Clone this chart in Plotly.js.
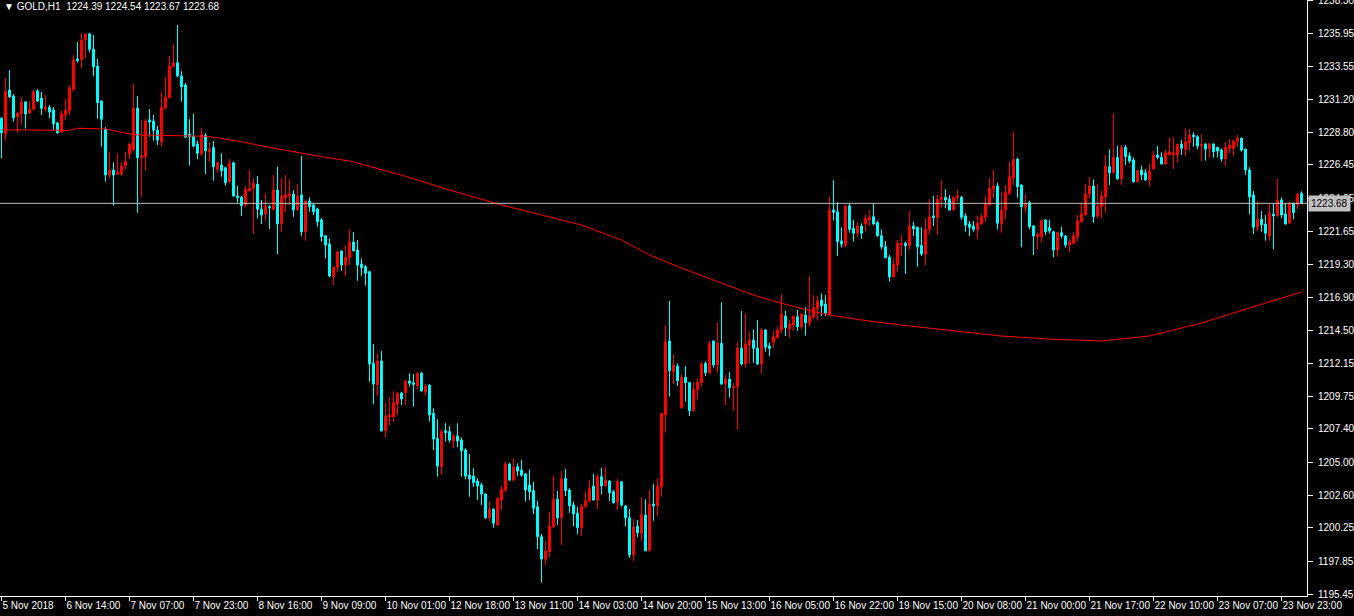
<!DOCTYPE html>
<html>
<head>
<meta charset="utf-8">
<script src="https://cdn.plot.ly/plotly-3.0.1.min.js"></script>
<style>
html,body{margin:0;padding:0;background:#000;}
#chart{width:1354px;height:616px;}
</style>
</head>
<body>
<div id="chart"></div>
<script>
const symbol = "GOLD,H1";

const open = [
1229.82,1228.69,1231.86,1231.43,1229.93,1230.15,1231.00,1230.20,1230.47,1231.79,
1231.28,1230.47,1230.61,1230.42,1229.48,1228.83,1230.06,1230.37,1231.93,1234.10,
1234.03,1235.47,1235.91,1234.80,1233.59,1231.07,1229.02,1225.73,1226.09,1225.80,
1225.80,1226.40,1227.24,1227.53,1230.56,1226.98,1227.05,1229.70,1229.62,1228.97,
1228.13,1230.56,1231.31,1233.54,1233.83,1232.87,1232.22,1228.66,1228.54,1227.96,
1227.24,1228.59,1227.41,1227.70,1226.16,1226.45,1226.25,1225.24,1226.61,1224.21,
1224.11,1223.56,1224.59,1224.76,1225.07,1223.25,1222.91,1223.44,1223.25,1224.64,
1222.19,1224.09,1224.21,1224.35,1223.20,1224.28,1221.63,1223.85,1223.56,1223.27,
1222.48,1221.34,1220.74,1218.38,1219.06,1220.24,1219.23,1219.75,1220.89,1220.31,
1219.30,1219.10,1218.74,1212.13,1210.56,1212.30,1207.26,1208.27,1208.27,1209.19,
1209.98,1210.01,1210.85,1210.73,1210.49,1211.41,1210.08,1210.56,1208.52,1206.71,
1204.66,1207.26,1207.19,1206.52,1206.88,1206.59,1205.87,1204.06,1203.99,1203.63,
1203.34,1202.69,1200.98,1201.61,1200.46,1202.26,1202.98,1204.86,1203.70,1204.66,
1204.43,1204.14,1203.34,1202.93,1201.78,1199.61,1197.98,1198.53,1200.33,1202.31,
1200.98,1203.83,1202.98,1201.90,1201.30,1200.26,1201.78,1202.19,1203.27,1202.26,
1203.94,1203.27,1203.63,1202.86,1202.06,1203.58,1201.83,1200.98,1198.29,1200.38,
1199.86,1201.18,1198.60,1201.97,1201.83,1203.22,1208.40,1213.74,1211.52,1211.93,
1208.92,1211.12,1210.73,1208.71,1210.20,1210.73,1212.13,1211.45,1213.74,1212.01,
1213.57,1210.63,1210.99,1210.37,1210.44,1213.21,1212.08,1213.45,1213.81,1213.21,
1212.08,1214.53,1213.38,1213.65,1213.98,1214.53,1215.54,1214.61,1214.89,1215.49,
1214.77,1215.62,1215.06,1215.49,1216.10,1216.70,1216.41,1215.67,1223.20,1223.07,
1220.96,1220.67,1223.49,1221.88,1221.52,1222.04,1222.19,1222.48,1222.72,1222.28,
1221.34,1220.55,1219.78,1218.38,1219.23,1220.67,1220.79,1220.62,1222.04,1221.95,
1220.65,1220.02,1221.80,1222.77,1222.64,1223.97,1224.11,1223.97,1223.20,1224.11,
1224.11,1222.77,1222.19,1222.04,1221.80,1222.19,1222.67,1223.56,1224.71,1224.93,
1222.19,1223.20,1224.40,1225.49,1226.86,1225.00,1223.39,1223.73,1222.04,1221.27,
1221.27,1222.48,1221.92,1221.63,1220.31,1221.56,1221.32,1220.67,1220.79,1221.27,
1222.35,1222.84,1224.35,1224.93,1222.77,1223.44,1224.16,1226.32,1225.89,1227.00,
1225.44,1227.72,1227.10,1226.81,1225.24,1226.09,1225.89,1225.36,1226.16,1227.17,
1227.00,1226.52,1227.22,1227.19,1227.17,1227.96,1227.58,1228.06,1228.61,1228.49,
1227.82,1227.96,1227.60,1227.96,1227.72,1227.53,1226.88,1227.65,1227.65,1228.13,
1228.37,1227.58,1226.09,1224.28,1221.95,1222.53,1222.19,1221.32,1222.91,1222.77,
1223.92,1222.91,1222.24,1223.68,1223.56,1224.39
];
const high = [
1229.90,1232.73,1233.31,1231.57,1230.25,1231.36,1231.05,1231.07,1231.86,1231.93,
1231.72,1231.50,1230.78,1230.63,1229.55,1230.37,1231.21,1232.22,1234.39,1235.33,
1235.96,1235.96,1236.00,1235.83,1234.10,1231.10,1229.19,1227.41,1226.64,1227.29,
1226.64,1227.39,1228.05,1232.30,1231.43,1229.70,1229.77,1230.49,1230.06,1229.26,
1231.72,1232.80,1234.32,1235.18,1236.56,1233.23,1232.39,1229.77,1230.13,1228.20,
1229.14,1228.74,1228.09,1228.18,1226.74,1227.29,1226.32,1226.88,1226.69,1224.93,
1224.21,1224.93,1226.09,1225.49,1225.65,1223.92,1224.40,1223.56,1225.73,1226.32,
1225.49,1225.73,1225.41,1224.64,1225.07,1227.10,1223.97,1224.11,1223.73,1223.36,
1222.62,1221.39,1221.15,1219.10,1220.26,1220.26,1220.67,1221.82,1221.59,1221.03,
1219.71,1219.23,1218.82,1213.52,1212.85,1213.02,1209.28,1209.67,1210.13,1210.03,
1210.08,1210.90,1211.41,1211.36,1211.45,1211.52,1210.63,1210.60,1208.88,1208.09,
1207.36,1207.80,1207.60,1207.02,1207.80,1206.79,1205.99,1205.58,1204.55,1203.83,
1203.51,1202.75,1202.19,1201.65,1202.45,1203.27,1205.02,1204.95,1205.27,1204.91,
1205.15,1204.21,1204.47,1203.58,1202.21,1199.81,1199.30,1201.41,1204.00,1202.91,
1204.35,1204.50,1203.11,1202.14,1201.78,1201.97,1202.86,1203.70,1204.14,1204.14,
1204.59,1204.66,1203.70,1202.98,1203.78,1203.63,1201.90,1201.61,1200.89,1200.82,
1202.45,1202.31,1202.98,1203.42,1203.83,1208.56,1214.89,1216.63,1212.80,1212.13,
1211.36,1211.93,1210.80,1210.73,1211.05,1212.25,1212.25,1213.76,1213.76,1215.06,
1216.53,1211.28,1211.48,1210.69,1213.65,1215.91,1215.74,1214.37,1214.58,1215.26,
1214.66,1214.58,1213.62,1214.46,1214.77,1217.13,1215.91,1215.26,1215.56,1215.98,
1215.75,1216.17,1218.43,1217.06,1216.99,1217.18,1217.06,1224.16,1225.36,1223.75,
1221.95,1223.55,1223.68,1222.48,1222.28,1222.24,1222.84,1223.20,1223.68,1222.43,
1221.80,1220.96,1219.95,1219.71,1221.03,1221.39,1220.91,1223.12,1222.35,1221.99,
1221.95,1222.64,1223.97,1224.21,1224.28,1225.36,1224.71,1224.28,1224.21,1224.64,
1224.21,1222.96,1222.40,1222.40,1222.77,1222.96,1224.21,1225.49,1226.09,1225.17,
1224.52,1225.00,1226.69,1228.85,1226.97,1225.05,1224.40,1223.87,1222.12,1221.56,
1222.53,1222.53,1222.48,1221.70,1221.63,1221.99,1221.39,1221.08,1221.63,1222.84,
1223.68,1225.07,1225.56,1225.41,1225.07,1224.59,1227.17,1227.58,1230.18,1227.82,
1227.89,1227.89,1227.36,1227.00,1226.14,1226.40,1226.16,1226.52,1227.48,1227.82,
1227.36,1227.58,1228.42,1228.45,1228.01,1228.25,1229.10,1229.05,1228.81,1228.61,
1228.66,1228.01,1228.01,1228.01,1227.76,1227.65,1228.09,1228.30,1228.30,1228.61,
1228.45,1227.65,1226.28,1224.59,1223.85,1223.12,1222.84,1223.68,1223.68,1225.44,
1224.11,1223.63,1223.80,1223.73,1224.40,1224.54
];
const low = [
1226.95,1228.20,1231.28,1229.57,1228.76,1229.34,1229.07,1230.13,1230.40,1231.00,
1230.06,1230.30,1229.82,1228.97,1228.69,1228.74,1229.70,1230.06,1231.74,1233.83,
1233.43,1234.15,1234.56,1232.87,1229.79,1227.77,1225.24,1225.49,1223.51,1225.73,
1225.67,1226.14,1226.88,1227.45,1223.00,1224.16,1226.04,1228.49,1228.20,1227.89,
1227.77,1230.47,1231.26,1233.50,1232.78,1231.02,1228.40,1226.40,1227.72,1226.86,
1227.10,1225.80,1226.69,1225.31,1225.89,1225.60,1224.95,1225.13,1224.15,1223.73,
1222.77,1223.39,1224.52,1221.46,1222.60,1222.19,1222.40,1221.83,1223.15,1220.02,
1221.63,1223.07,1223.56,1222.71,1223.15,1221.32,1220.98,1223.07,1222.84,1221.99,
1220.91,1219.71,1218.34,1217.78,1218.74,1218.82,1218.43,1219.23,1220.20,1218.09,
1218.43,1217.73,1210.80,1209.19,1209.77,1207.20,1206.79,1207.62,1207.91,1208.40,
1209.12,1209.12,1210.44,1209.00,1210.25,1210.08,1209.77,1207.91,1205.87,1203.94,
1204.06,1206.47,1206.40,1205.99,1206.07,1203.94,1203.75,1202.50,1203.22,1202.26,
1201.90,1200.90,1200.74,1200.26,1200.40,1201.54,1202.79,1203.65,1203.58,1203.99,
1203.94,1202.14,1202.26,1201.25,1198.72,1196.29,1197.57,1198.12,1200.25,1200.46,
1199.01,1202.55,1201.34,1200.38,1199.80,1199.68,1201.70,1202.14,1202.20,1201.61,
1202.69,1203.20,1202.19,1202.02,1201.54,1201.78,1200.38,1198.09,1197.86,1199.57,
1199.32,1198.55,1198.53,1200.77,1201.10,1202.50,1207.12,1209.72,1210.63,1210.49,
1208.85,1209.36,1208.32,1208.65,1209.53,1210.44,1211.21,1211.40,1211.81,1211.45,
1210.56,1209.12,1209.67,1208.71,1207.36,1211.96,1211.84,1212.13,1212.17,1212.00,
1211.41,1212.97,1212.66,1213.21,1213.90,1214.29,1214.10,1213.98,1214.46,1214.46,
1214.58,1214.12,1214.77,1215.31,1215.20,1215.54,1215.54,1215.56,1222.43,1219.88,
1220.50,1220.50,1221.56,1220.91,1221.27,1221.10,1221.63,1222.04,1222.12,1221.27,
1220.36,1219.71,1218.02,1218.30,1218.74,1219.88,1218.58,1220.31,1221.32,1219.10,
1219.88,1219.23,1221.46,1222.04,1221.39,1223.39,1223.32,1223.15,1223.12,1223.80,
1222.48,1221.63,1221.32,1221.63,1221.10,1222.12,1222.35,1223.49,1224.04,1221.80,
1221.56,1222.53,1224.28,1225.00,1224.09,1220.50,1223.00,1221.80,1219.95,1220.36,
1220.84,1221.39,1221.52,1219.78,1219.83,1221.15,1220.48,1220.12,1220.74,1220.91,
1222.28,1222.80,1224.04,1222.28,1222.60,1222.60,1223.00,1225.00,1225.85,1225.40,
1225.00,1226.45,1226.57,1225.17,1225.17,1225.36,1225.30,1224.88,1226.10,1226.86,
1226.48,1226.48,1227.10,1226.16,1226.61,1227.17,1227.10,1227.48,1227.77,1227.58,
1226.74,1226.76,1226.97,1226.97,1227.00,1226.69,1226.32,1227.29,1227.10,1227.77,
1227.41,1225.73,1222.91,1221.46,1221.70,1221.63,1220.98,1220.98,1220.38,1222.71,
1222.60,1222.15,1222.19,1222.53,1223.25,1223.67
];
const close = [
1228.78,1231.79,1231.38,1229.86,1230.20,1231.00,1230.13,1230.49,1231.74,1231.07,
1230.54,1230.61,1230.27,1229.43,1228.78,1230.13,1230.42,1232.01,1234.03,1233.98,
1235.47,1235.91,1234.80,1233.54,1230.95,1229.75,1225.73,1226.09,1225.73,1225.89,
1226.37,1226.69,1227.96,1230.56,1226.98,1227.12,1229.62,1229.55,1228.97,1228.25,
1230.61,1231.34,1233.59,1233.83,1232.87,1232.10,1228.45,1228.49,1227.82,1227.29,
1228.66,1227.48,1227.60,1226.32,1226.61,1226.04,1225.17,1226.57,1224.21,1224.09,
1223.51,1224.69,1224.76,1225.13,1223.25,1222.84,1223.49,1223.36,1224.64,1222.19,
1224.21,1224.28,1224.35,1223.20,1224.21,1221.63,1223.85,1223.44,1223.07,1222.35,
1221.27,1220.67,1218.43,1219.06,1220.17,1219.23,1219.78,1220.89,1220.26,1219.23,
1219.03,1218.63,1212.08,1210.63,1212.30,1207.26,1208.32,1208.40,1209.28,1209.98,
1209.55,1210.85,1210.69,1210.61,1211.41,1210.15,1210.49,1208.40,1206.66,1204.71,
1207.19,1207.12,1206.59,1206.88,1206.52,1205.82,1203.99,1203.78,1203.51,1203.27,
1202.69,1200.98,1201.59,1200.58,1202.38,1203.05,1204.86,1203.70,1204.66,1204.35,
1204.06,1202.98,1202.86,1201.66,1199.61,1198.00,1198.58,1200.38,1202.31,1200.98,
1203.78,1202.93,1201.85,1201.25,1200.26,1201.78,1202.21,1203.11,1202.26,1203.94,
1203.27,1203.70,1202.79,1202.06,1203.58,1201.90,1200.98,1198.29,1200.31,1199.90,
1201.18,1198.60,1201.97,1201.83,1203.27,1208.52,1213.69,1211.60,1212.01,1210.87,
1211.12,1210.73,1208.71,1210.25,1210.78,1212.08,1211.45,1213.57,1212.01,1213.57,
1210.63,1210.99,1210.37,1210.44,1213.21,1212.08,1213.52,1213.81,1213.21,1212.08,
1214.53,1213.29,1213.21,1214.05,1214.53,1215.69,1214.70,1214.97,1215.54,1214.77,
1215.69,1215.06,1215.54,1216.14,1216.63,1216.27,1215.74,1223.20,1223.03,1220.91,
1220.74,1223.49,1221.80,1221.52,1222.04,1221.52,1222.60,1222.67,1222.19,1221.34,
1220.55,1219.75,1218.38,1219.28,1220.79,1220.79,1220.62,1222.04,1221.83,1220.55,
1220.02,1221.80,1222.72,1222.64,1223.97,1224.11,1223.92,1223.20,1224.11,1224.21,
1222.67,1222.12,1221.95,1221.80,1222.24,1222.72,1223.68,1224.76,1224.93,1222.24,
1223.20,1224.45,1225.60,1226.86,1224.88,1223.44,1223.68,1222.00,1221.32,1221.44,
1222.43,1221.63,1221.68,1220.31,1221.56,1221.32,1220.67,1220.91,1221.32,1222.40,
1222.91,1224.35,1224.93,1222.72,1223.49,1224.21,1226.37,1225.89,1227.00,1225.44,
1227.65,1227.05,1226.74,1225.24,1226.04,1225.73,1225.36,1226.01,1227.17,1227.00,
1226.52,1227.33,1227.39,1227.33,1227.94,1227.65,1228.13,1228.61,1228.49,1227.82,
1227.96,1227.60,1227.96,1227.41,1227.46,1226.88,1227.72,1227.89,1228.16,1228.37,
1227.53,1226.09,1224.16,1221.95,1222.53,1222.12,1221.52,1222.96,1222.77,1223.92,
1222.84,1222.19,1223.68,1223.00,1224.35,1223.68
];

// moving average, at candle indices
const maIdx = [0,17,19,26,33,41,51,53,55,60,66,72,80,87,100,112,125,135,145,155,162,170,178,183,188,193,198,203,208,215,225,237,250,262,275,287,300,312,325];
const maVal = [1228.99,1228.95,1229.10,1229.05,1228.63,1228.59,1228.52,1228.45,1228.37,1228.13,1227.77,1227.44,1227.05,1226.74,1225.72,1224.64,1223.56,1222.84,1222.11,1221.03,1219.95,1219.01,1218.14,1217.62,1217.06,1216.63,1216.22,1215.86,1215.57,1215.26,1214.89,1214.53,1214.10,1213.88,1213.74,1214.10,1215.04,1216.12,1217.28];

const dateLabels = ["5 Nov 2018","6 Nov 14:00","7 Nov 07:00","7 Nov 23:00","8 Nov 16:00","9 Nov 09:00","10 Nov 01:00","12 Nov 18:00","13 Nov 11:00","14 Nov 03:00","14 Nov 20:00","15 Nov 13:00","16 Nov 05:00","16 Nov 22:00","19 Nov 15:00","20 Nov 08:00","21 Nov 00:00","21 Nov 17:00","22 Nov 10:00","23 Nov 07:00","23 Nov 23:00"];
const dateLabelStep = 16; // bars between date labels

const priceTicks = [1238.30,1235.95,1233.55,1231.20,1228.80,1226.45,1224.05,1221.65,1219.30,1216.90,1214.50,1212.15,1209.75,1207.40,1205.00,1202.60,1200.25,1197.85,1195.45];

const n = close.length;
const idx = Array.from({length: n}, (_, i) => i);
const last = n - 1;
const font = {family: 'Liberation Sans, Arial, DejaVu Sans, sans-serif', size: 10, color: '#FFFFFF'};

const traces = [
  {
    type: 'candlestick', x: idx, open: open, high: high, low: low, close: close,
    increasing: {line: {color: '#FF0000', width: 1}, fillcolor: '#FF0000'},
    decreasing: {line: {color: '#00FFFF', width: 1}, fillcolor: '#00FFFF'},
    whiskerwidth: 0, hoverinfo: 'skip', showlegend: false
  },
  {
    type: 'scatter', mode: 'lines', x: maIdx, y: maVal,
    line: {color: '#FF0000', width: 1}, hoverinfo: 'skip', showlegend: false
  }
];

const header = '\u25BC ' + symbol + '  ' + [open[last], high[last], low[last], close[last]].map(v => v.toFixed(2)).join(' ');

const layout = {
  width: 1354, height: 616,
  margin: {l: 0, r: 47, t: 0, b: 20, pad: 0},
  paper_bgcolor: '#000000', plot_bgcolor: '#000000',
  showlegend: false, hovermode: false, dragmode: false,
  font: font,
  xaxis: {
    range: [-0.375, 326.375], fixedrange: true,
    rangeslider: {visible: false},
    showgrid: false, zeroline: false,
    showline: true, linecolor: '#FFFFFF', linewidth: 1,
    ticks: 'outside', ticklen: 4, tickcolor: '#FFFFFF', tickwidth: 1,
    tickvals: dateLabels.map((_, i) => i * dateLabelStep),
    ticktext: dateLabels,
    tickangle: 0,
    ticklabelposition: 'outside right',
    ticklabeloverflow: 'allow',
    tickfont: font
  },
  yaxis: {
    side: 'right', range: [1195.33, 1238.36], fixedrange: true,
    showgrid: false, zeroline: false,
    showline: true, linecolor: '#FFFFFF', linewidth: 1,
    ticks: 'outside', ticklen: 5, tickcolor: '#FFFFFF', tickwidth: 1,
    ticklabelstandoff: 3,
    tickvals: priceTicks, ticktext: priceTicks.map(v => v.toFixed(2)),
    ticklabeloverflow: 'allow',
    tickfont: font
  },
  shapes: [
    {type: 'line', xref: 'paper', yref: 'y', x0: 0, x1: 1, y0: close[last], y1: close[last],
     line: {color: '#C0C0C0', width: 1}}
  ],
  annotations: [
    {xref: 'paper', yref: 'paper', x: 0, y: 1, xanchor: 'left', yanchor: 'top',
     xshift: 2, yshift: 1, text: header, showarrow: false, font: font, align: 'left'},
    {xref: 'paper', yref: 'y', x: 1, y: close[last], xanchor: 'left', yanchor: 'middle',
     xshift: 1, text: close[last].toFixed(2), showarrow: false,
     bgcolor: '#C0C0C0', borderpad: 2,
     font: {family: font.family, size: 10, color: '#000000'}}
  ]
};

Plotly.newPlot('chart', traces, layout, {displayModeBar: false, staticPlot: true});
</script>
</body>
</html>
